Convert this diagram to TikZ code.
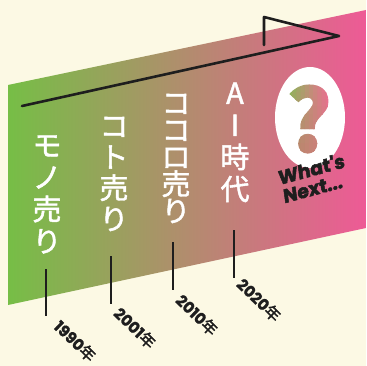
\documentclass[tikz,border=0pt]{standalone}
\usepackage{fontspec}
\newfontfamily\cjk{Noto Sans CJK JP}[FakeBold=1.6]
\newfontfamily\cjky{Noto Sans CJK JP}[FakeBold=2.0]
\newfontfamily\cjkq{Noto Sans CJK JP}[FakeBold=1.0]
\newfontfamily\popp{Poppins}[FakeBold=2.5, FakeSlant=0.12]
\newfontfamily\poppy{Poppins}[FakeBold=1.2]
\usetikzlibrary{shapes.geometric}
\definecolor{cream}{HTML}{FCF9E4}
\definecolor{lgreen}{HTML}{76BE46}
\definecolor{rpink}{HTML}{EE5A96}
\definecolor{ink}{HTML}{1E1E1E}
\definecolor{qgreen}{HTML}{8DB55A}
\definecolor{qpink}{HTML}{EC6E92}
\definecolor{qbrown}{HTML}{B8866A}
\definecolor{qmauve}{HTML}{D07E7E}
\newcommand\yeartext[1]{{\poppy\bfseries #1}{\cjky 年}}
\tikzset{
  colstyle/.style={text=white, font=\cjk\fontsize{29}{#1}\selectfont, align=center, inner sep=0pt},
  yearstyle/.style={text=ink, rotate=-44, font=\fontsize{15.5}{15.5}\selectfont, inner sep=0pt},
  tickstyle/.style={draw=ink, line width=1.6pt},
  arrowline/.style={draw=ink, line width=2.6pt, line join=round, line cap=round},
  qstyle/.style={text=#1, inner sep=0pt, anchor=base, font=\cjkq\bfseries\fontsize{86}{86}\selectfont}
}
\begin{document}
\begin{tikzpicture}[x=1pt,y=-1pt]
\useasboundingbox (0,0) rectangle (366,366);
\fill[cream] (0,0) rectangle (366,366);
\shade[left color=lgreen, right color=rpink] (8,85) -- (366,10) -- (366,228) -- (8,305) -- cycle;
% oval
\node[ellipse, fill=white, minimum width=70pt, minimum height=101pt, inner sep=0pt] (oval) at (310,117.5) {};
% question mark, coloured in a grid of clipped copies
\foreach \i in {0,...,9} {
  \foreach \j in {0,...,9} {
    \pgfmathtruncatemacro\qa{100-\i*11}
    \pgfmathtruncatemacro\qb{100-\j*11}
    \colorlet{qtop}{qgreen!\qa!qpink}
    \colorlet{qbot}{qbrown!\qa!qmauve}
    \colorlet{qc}{qtop!\qb!qbot}
    \begin{scope}
      \clip ({288+\i*4.2},{85+\j*7.3}) rectangle ({292.6+\i*4.2},{92.6+\j*7.3});
      \node[qstyle=qc] (q\i\j) at (309,152) {?};
    \end{scope}
  }
}
% main arrow
\coordinate (start) at (22,106);
\coordinate (tip) at (339,36);
\coordinate (htop) at (264,17);
\coordinate (hbot) at (264,45);
\draw[arrowline] (start) -- (tip) -- (htop) -- (hbot);
% columns
\node[colstyle=32] (c1) at (47,194.5) {モ\\ノ\\売\\り};
\node[colstyle=31] (c2) at (114,174) {コ\\ト\\売\\り};
\node[colstyle=27] (c3) at (176,158.5) {コ\\コ\\ロ\\売\\り};
\node[colstyle=32] (c4) at (235,142.5) {A\\I\\時\\代};
% ticks
\coordinate (t1a) at (46,269); \coordinate (t1b) at (46,316);
\coordinate (t2a) at (111,256); \coordinate (t2b) at (111,304);
\coordinate (t3a) at (173,242); \coordinate (t3b) at (173,290);
\coordinate (t4a) at (234,230); \coordinate (t4b) at (234,278);
\draw[tickstyle] (t1a) -- (t1b);
\draw[tickstyle] (t2a) -- (t2b);
\draw[tickstyle] (t3a) -- (t3b);
\draw[tickstyle] (t4a) -- (t4b);
% years
\node[yearstyle] (y1) at (75,341) {\yeartext{1990}};
\node[yearstyle] (y2) at (135,328) {\yeartext{2001}};
\node[yearstyle] (y3) at (197,315) {\yeartext{2010}};
\node[yearstyle] (y4) at (259,300) {\yeartext{2020}};
% what's next
\node[text=ink, rotate=15, align=left, inner sep=0pt, font=\popp\bfseries\fontsize{19}{19}\selectfont] (wn) at (313,178) {What's\\Next...};
\end{tikzpicture}
\end{document}
